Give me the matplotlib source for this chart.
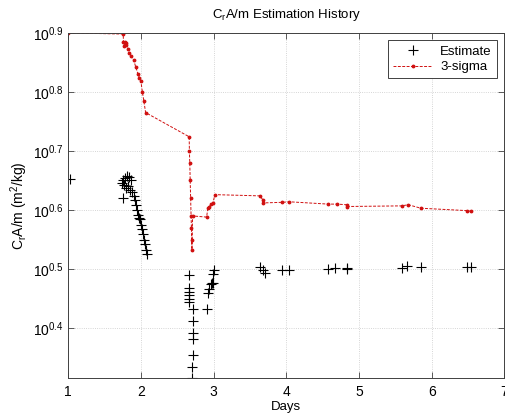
import matplotlib
matplotlib.use("Agg")
import matplotlib.pyplot as plt
from matplotlib.ticker import FixedLocator, NullLocator

plt.rcParams['font.family'] = ['Liberation Sans', 'DejaVu Sans']
plt.rcParams['mathtext.default'] = 'regular'

# 3-sigma history (days, m^2/kg)
sigma_days = [1.00, 1.757, 1.76, 1.77, 1.78, 1.79, 1.80, 1.82, 1.84, 1.87, 1.90, 1.93,
              1.96, 1.98, 2.00, 2.02, 2.04, 2.065, 2.664, 2.667, 2.672, 2.678, 2.684,
              2.69, 2.695, 2.70, 2.702, 2.711, 2.904, 2.92, 2.94, 2.97, 2.99, 3.018,
              3.637, 3.678, 3.68, 3.935, 4.04, 4.576, 4.692, 4.829, 4.83, 5.586, 5.677,
              5.851, 6.48, 6.535]
sigma_vals = [7.943, 7.907, 7.674, 7.551, 7.656, 7.586, 7.621, 7.464, 7.345, 7.244, 7.145,
              6.950, 6.761, 6.668, 6.577, 6.310, 6.095, 5.821, 5.297, 5.012, 4.786, 4.467,
              4.169, 3.890, 3.715, 3.548, 3.412, 3.890, 3.873, 4.009, 4.036, 4.074, 4.093,
              4.227, 4.207, 4.140, 4.093, 4.102, 4.111, 4.074, 4.074, 4.064, 4.036, 4.046,
              4.064, 4.009, 3.972, 3.963]

# Estimates (days, m^2/kg)
est_days = [1.02, 1.735, 1.752, 1.780, 1.807, 1.835, 1.862, 1.766, 1.794, 1.821, 1.849,
            1.876, 1.757, 1.904, 1.917, 1.931, 1.945, 1.959, 1.972, 1.986, 2.000, 2.014,
            2.028, 2.041, 2.055, 2.069, 2.083,
            2.66, 2.66, 2.66, 2.66, 2.66, 2.66, 2.72, 2.72, 2.71, 2.72, 2.71, 2.70, 2.70,
            2.904, 2.92, 2.94, 2.96, 2.975, 2.99, 2.995, 3.01,
            3.637, 3.682, 3.705, 3.935, 4.04, 4.576, 4.667, 4.829, 4.829, 5.586, 5.663,
            5.851, 6.48, 6.535]
est_vals = [4.487, 4.426, 4.477, 4.519, 4.550, 4.529, 4.477, 4.395, 4.345, 4.375, 4.305,
            4.276, 4.169, 4.207, 4.140, 4.064, 3.981, 3.908, 3.864, 3.837, 3.758, 3.690,
            3.622, 3.548, 3.483, 3.412, 3.350,
            3.090, 2.938, 2.891, 2.858, 2.818, 2.786, 2.710, 2.582, 2.466, 2.404, 2.265,
            2.158, 2.070,
            2.710, 2.884, 2.931, 2.979, 3.000, 2.992, 3.097, 3.155,
            3.184, 3.148, 3.119, 3.155, 3.155, 3.162, 3.177, 3.177, 3.162, 3.170, 3.199,
            3.192, 3.192, 3.192]

ytick_exps = ['0.4', '0.5', '0.6', '0.7', '0.8', '0.9']
xticks = [1, 2, 3, 4, 5, 6, 7]

fig = plt.figure(figsize=(5.05, 4.16), dpi=100)
ax = fig.add_axes([0.135, 0.092, 0.864, 0.829])

ax.plot(est_days, est_vals, linestyle='none', marker='+', color='black',
        markersize=7.5, markeredgewidth=0.8, label='Estimate')
ax.plot(sigma_days, sigma_vals, linestyle='--', linewidth=0.7, color='#d01010',
        marker='.', markersize=3.5, dashes=(3, 1.5), label='3-sigma')

ax.set_yscale('log')
ax.set_xlim(1, 7)
ax.set_ylim(10 ** 0.316, 10 ** 0.9)
ax.yaxis.set_major_locator(FixedLocator([10 ** float(e) for e in ytick_exps]))
ax.yaxis.set_minor_locator(NullLocator())
ax.set_yticklabels([r'$10^{%s}$' % e for e in ytick_exps])
ax.set_xticks(xticks)
ax.set_xticklabels([str(x) for x in xticks])

ax.tick_params(direction='in', top=True, right=True, labelsize=10, length=4,
               width=0.6, color='#404040')
ax.tick_params(axis='x', pad=5)
ax.grid(True, linestyle=':', color='#c8c8c8', linewidth=0.6)
for s in ax.spines.values():
    s.set_linewidth(0.7)
    s.set_color('#404040')

ax.set_title(r'C$_r$A/m Estimation History', fontsize=9.5, pad=11)
ax.set_xlabel('Days', fontsize=9.5, labelpad=2)
ax.set_ylabel(r'C$_r$A/m (m$^2$/kg)', fontsize=10, labelpad=2)

leg = ax.legend(loc='upper right', fontsize=9.5, numpoints=1, fancybox=False,
                framealpha=1, edgecolor='#404040', borderaxespad=0.55,
                handlelength=3.0, handletextpad=0.6, borderpad=0.4, labelspacing=0.25)
leg.get_frame().set_linewidth(0.7)

fig.savefig('out.png', dpi=100)
